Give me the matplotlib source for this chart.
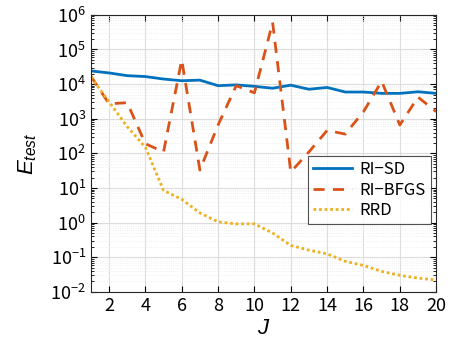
import matplotlib
matplotlib.use("Agg")
import matplotlib.pyplot as plt
import numpy as np
from matplotlib.ticker import LogLocator, NullFormatter

plt.rcParams['font.family'] = ['Noto Sans CJK JP', 'DejaVu Sans']
plt.rcParams['mathtext.fontset'] = 'custom'
plt.rcParams['mathtext.rm'] = 'Liberation Sans'
plt.rcParams['mathtext.it'] = 'Liberation Sans:italic'

J = list(range(1, 21))
ri_sd = [2.4e4, 2.1e4, 1.75e4, 1.65e4, 1.4e4, 1.25e4, 1.3e4, 9.0e3, 9.5e3, 8.6e3,
         7.6e3, 9.3e3, 7.1e3, 8.0e3, 5.9e3, 5.9e3, 5.4e3, 5.4e3, 6.0e3, 5.4e3]
ri_bfgs = [1.7e4, 2.7e3, 2.9e3, 190, 110, 5.0e4, 33, 660, 9.0e3, 5.6e3,
           6.0e5, 29, 110, 460, 360, 1600, 1.2e4, 660, 4.2e3, 1600]
rrd = [1.6e4, 3.1e3, 590, 150, 8.5, 4.7, 1.9, 1.05, 0.92, 0.92,
       0.5, 0.22, 0.16, 0.125, 0.076, 0.058, 0.039, 0.03, 0.025, 0.022]
series_names = ['RI\u2212SD', 'RI\u2212BFGS', 'RRD']
xticks = list(range(2, 21, 2))

fig = plt.figure(figsize=(4.52, 3.45), dpi=100)
ax = fig.add_axes([0.201, 0.154, 0.764, 0.803])

ax.plot(J, ri_sd, color='#0072BD', lw=2, ls='-', label=series_names[0])
ax.plot(J, ri_bfgs, color='#D95319', lw=2, ls=(0, (4, 3)), label=series_names[1])
ax.plot(J, rrd, color='#EDB120', lw=2, ls=(0, (1, 1)), label=series_names[2])

ax.set_yscale('log')
ax.set_xlim(1, 20)
ax.set_ylim(1e-2, 1e6)
ax.set_xticks(xticks)
ax.set_yticks([10.0**k for k in range(-2, 7)])
ax.yaxis.set_minor_locator(LogLocator(base=10, subs=np.arange(2, 10), numticks=20))
ax.yaxis.set_minor_formatter(NullFormatter())
ax.tick_params(which='both', direction='in', labelsize=13, top=True, right=True)
ax.tick_params(which='major', length=4)
ax.tick_params(which='minor', length=2)
ax.grid(True, which='major', color='#dcdcdc', lw=0.8)
ax.grid(True, which='minor', axis='y', color='#ececec', lw=0.6, ls=':')
ax.set_axisbelow(True)
for s in ax.spines.values():
    s.set_color('#262626')
    s.set_linewidth(0.8)

ax.set_xlabel('$J$', fontsize=16, labelpad=1)
ax.set_ylabel('$E_{test}$', fontsize=16, labelpad=8)

leg = ax.legend(loc='lower right', bbox_to_anchor=(0.995, 0.233), fontsize=12,
                frameon=True, fancybox=False, edgecolor='#262626',
                handlelength=2.3, borderpad=0.3, labelspacing=0.2, handletextpad=0.5,
                borderaxespad=0.2)
leg.get_frame().set_linewidth(0.8)

fig.savefig('out.png', dpi=100)
